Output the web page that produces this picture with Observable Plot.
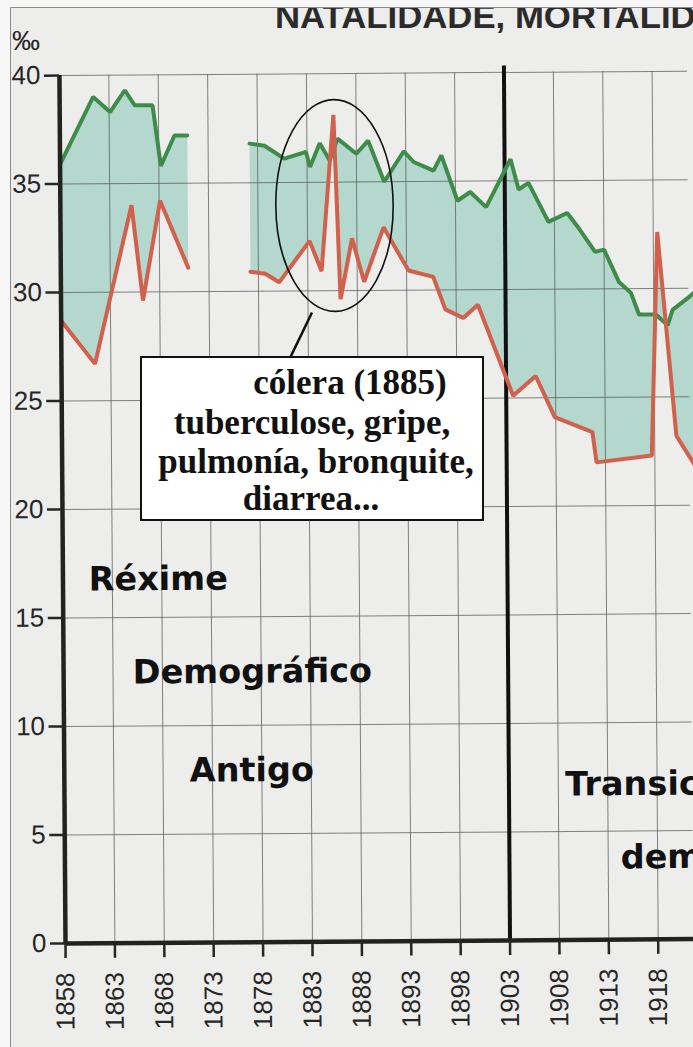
<!DOCTYPE html>
<html><head><meta charset="utf-8">
<script src="https://cdn.jsdelivr.net/npm/d3@7"></script>
<script src="https://cdn.jsdelivr.net/npm/@observablehq/plot@0.6"></script>
<style>
html,body{margin:0;padding:0;overflow:hidden;background:#ededeb;}
#wrap{position:relative;width:693px;height:1047px;overflow:hidden;}
#chart svg{position:absolute;left:0;top:0;transform-origin:65px 943px;transform:rotate(-0.4deg);}
#overlay{position:absolute;left:0;top:0;}
</style></head>
<body><div id="wrap"><div id="chart"></div><svg id="overlay" width="693" height="1047"></svg></div>
<script>
// ---- data ----
const anosTicks = [1858, 1863, 1868, 1873, 1878, 1883, 1888, 1893, 1898, 1903, 1908, 1913, 1918];
const valoresTicks = [0, 5, 10, 15, 20, 25, 30, 35, 40];

const natalidadeAnos1 = [1858, 1861.4, 1863.1, 1864.6, 1865.6, 1867.4, 1868.2, 1869.6, 1870.9];
const natalidade1     = [35.9, 39.0, 38.3, 39.3, 38.6, 38.6, 35.8, 37.2, 37.2];
const mortalidadeAnos1 = [1858, 1861.4, 1865.2, 1866.3, 1868.1, 1870.9];
const mortalidade1     = [28.7, 26.7, 34.0, 29.6, 34.2, 31.1];

const natalidadeAnos2 = [1877.2, 1878.7, 1880.7, 1882.9, 1883.3, 1884.3, 1885.3, 1886.1, 1888.0, 1889.2, 1890.8, 1892.8, 1893.8, 1895.8, 1896.6, 1898.2, 1899.5, 1901.1, 1903.6, 1904.4, 1905.4, 1907.4, 1909.3, 1910.3, 1912.1, 1913.0, 1914.5, 1915.7, 1916.5, 1918.2, 1919.4, 1919.9, 1921.6, 1922.1];
const natalidade2     = [36.8, 36.7, 36.1, 36.4, 35.7, 36.8, 36.0, 37.0, 36.3, 36.9, 35.0, 36.4, 35.9, 35.5, 36.2, 34.1, 34.5, 33.8, 36.0, 34.6, 34.9, 33.1, 33.5, 32.9, 31.7, 31.8, 30.3, 29.8, 28.8, 28.8, 28.3, 29.0, 29.6, 29.8];
const mortalidadeAnos2 = [1877.2, 1878.7, 1880.1, 1883.2, 1884.4, 1885.7, 1886.3, 1887.5, 1888.7, 1890.7, 1893.2, 1895.7, 1896.9, 1898.7, 1900.2, 1903.7, 1906.0, 1907.9, 1911.7, 1912.1, 1917.7, 1918.4, 1920.2, 1922.1];
const mortalidade2     = [30.9, 30.8, 30.4, 32.3, 30.9, 38.1, 29.6, 32.4, 30.4, 32.9, 30.9, 30.6, 29.1, 28.7, 29.3, 25.1, 26.0, 24.1, 23.4, 22.0, 22.3, 32.6, 23.2, 21.8];

const rotulos      = ["Réxime", "Demográfico", "Antigo", "Transición", "demográfica"];
const rotulosAno   = [1860.6, 1865.0, 1870.7, 1908.7, 1914.25];
const rotulosValor = [16.26, 11.96, 7.42, 6.66, 3.28];

const elipseCentro = [1885.8, 33.9];
const elipseRadio  = [5.94, 4.88];
const ligazon = [{ano1: 1883.4, valor1: 29.0, ano2: 1880.7, valor2: 26.5}];

const titulo = "NATALIDADE, MORTALIDADE";
const caixaLinhas = ["cólera (1885)", "tuberculose, gripe,", "pulmonía, bronquite,", "diarrea..."];

// ---- tables built from the arrays ----
const tramos = [
  {serie: "natalidade", tramo: 1, anos: natalidadeAnos1, valores: natalidade1},
  {serie: "mortalidade", tramo: 1, anos: mortalidadeAnos1, valores: mortalidade1},
  {serie: "natalidade", tramo: 2, anos: natalidadeAnos2, valores: natalidade2},
  {serie: "mortalidade", tramo: 2, anos: mortalidadeAnos2, valores: mortalidade2}
];
const puntos = tramos.flatMap(s => s.anos.map((a, i) => ({serie: s.serie, tramo: s.tramo, ano: a, valor: s.valores[i]})));
const poligono = [1, 2].flatMap(t => {
  const n = puntos.filter(d => d.serie === "natalidade" && d.tramo === t);
  const m = puntos.filter(d => d.serie === "mortalidade" && d.tramo === t).reverse();
  return [...n, ...m];
});
const textos = rotulos.map((t, i) => ({texto: t, ano: rotulosAno[i], valor: rotulosValor[i]}));

const pxPorAno = (658 - 65.3) / 60;
const chart = Plot.plot({
  width: 693, height: 1047,
  marginLeft: 65, marginRight: 0, marginTop: 75, marginBottom: 104,
  x: {domain: [1858, 1858 + (693 - 65) / pxPorAno]},
  y: {domain: [0, 40]},
  style: {background: "transparent", color: "#262626", overflow: "visible"},
  marks: [
    Plot.line(poligono, {x: "ano", y: "valor", z: "tramo", fill: "#b4d8cd", stroke: "none"}),
    Plot.gridY(valoresTicks.filter(v => v > 0), {stroke: "#5a5a5a", strokeOpacity: 0.75, strokeWidth: 1}),
    Plot.gridX(anosTicks.filter(a => a > 1858 && a !== 1903), {stroke: "#5a5a5a", strokeOpacity: 0.75, strokeWidth: 1}),
    Plot.ruleX([1903], {y1: 0, y2: 40.3, stroke: "#111", strokeWidth: 4}),
    Plot.line(puntos.filter(d => d.serie === "natalidade"), {x: "ano", y: "valor", z: "tramo", stroke: "#3f8c4a", strokeWidth: 4, strokeLinejoin: "miter"}),
    Plot.line(puntos.filter(d => d.serie === "mortalidade"), {x: "ano", y: "valor", z: "tramo", stroke: "#d1604c", strokeWidth: 4, strokeLinejoin: "miter"}),
    Plot.ruleY([0], {stroke: "#222", strokeWidth: 4.5}),
    Plot.ruleX([1858], {y1: 0, y2: 40, stroke: "#222", strokeWidth: 4.5}),
    Plot.axisX({ticks: anosTicks, tickFormat: d => String(d), tickRotate: -90, tickSize: 15, tickPadding: 14,
      fontSize: 26, fontFamily: "'Liberation Sans', Arial, sans-serif", strokeWidth: 2.5, label: null}),
    Plot.axisY({ticks: valoresTicks, tickSize: 15, tickPadding: 4,
      fontSize: 26, fontFamily: "'Liberation Sans', Arial, sans-serif", strokeWidth: 2.5, label: null}),
    Plot.text(textos, {x: "ano", y: "valor", text: "texto", textAnchor: "start", lineAnchor: "bottom",
      fontSize: 33.5, fontWeight: "bold", fontFamily: "'Comic Sans MS', 'DejaVu Sans', sans-serif", fill: "#111"}),
    Plot.link(ligazon, {x1: "ano1", y1: "valor1", x2: "ano2", y2: "valor2", stroke: "#111", strokeWidth: 2.5})
  ]
});
document.getElementById("chart").append(chart);

// ellipse annotation positioned through the plot scales
const sx = chart.scale("x"), sy = chart.scale("y");
const cx = sx.apply(elipseCentro[0]), cy = sy.apply(elipseCentro[1]);
d3.select(chart).append("ellipse")
  .attr("cx", cx).attr("cy", cy)
  .attr("rx", sx.apply(elipseCentro[0] + elipseRadio[0]) - cx)
  .attr("ry", cy - sy.apply(elipseCentro[1] + elipseRadio[1]))
  .attr("fill", "none").attr("stroke", "#111").attr("stroke-width", 1.6);

// overlay: title, unit, text box, frame
const ov = d3.select("#overlay");
ov.append("text").attr("x", 275).attr("y", 28).text(titulo)
  .attr("font-family", "'Liberation Sans', Arial, sans-serif").attr("font-weight", "bold")
  .attr("font-size", 34).attr("fill", "#2b2b2b")
  .attr("textLength", 494).attr("lengthAdjust", "spacingAndGlyphs");
ov.append("text").attr("x", 40).attr("y", 50).attr("text-anchor", "end").text("‰")
  .attr("font-family", "'Liberation Sans', Arial, sans-serif").attr("font-size", 28).attr("fill", "#262626");
ov.append("rect").attr("x", 141).attr("y", 357).attr("width", 342).attr("height", 163)
  .attr("fill", "#fff").attr("stroke", "#111").attr("stroke-width", 2);
const caixaX = [350, 312, 316, 311];
const caixaY = [394, 434, 473, 510];
caixaLinhas.forEach((l, i) => {
  ov.append("text").attr("x", caixaX[i]).attr("y", caixaY[i]).attr("text-anchor", "middle").text(l)
    .attr("font-family", "'Liberation Serif', 'Times New Roman', serif").attr("font-weight", "bold")
    .attr("font-size", 35).attr("fill", "#111");
});
ov.append("rect").attr("x", 0).attr("y", 0).attr("width", 693).attr("height", 7).attr("fill", "#f7f7f7");
ov.append("rect").attr("x", 0).attr("y", 0).attr("width", 10).attr("height", 1047).attr("fill", "#f7f7f7");
ov.append("line").attr("x1", 10.5).attr("x2", 693).attr("y1", 7.5).attr("y2", 7.5).attr("stroke", "#8a8a8a");
ov.append("line").attr("x1", 10.5).attr("x2", 10.5).attr("y1", 7.5).attr("y2", 1047).attr("stroke", "#8a8a8a");
</script></body></html>
